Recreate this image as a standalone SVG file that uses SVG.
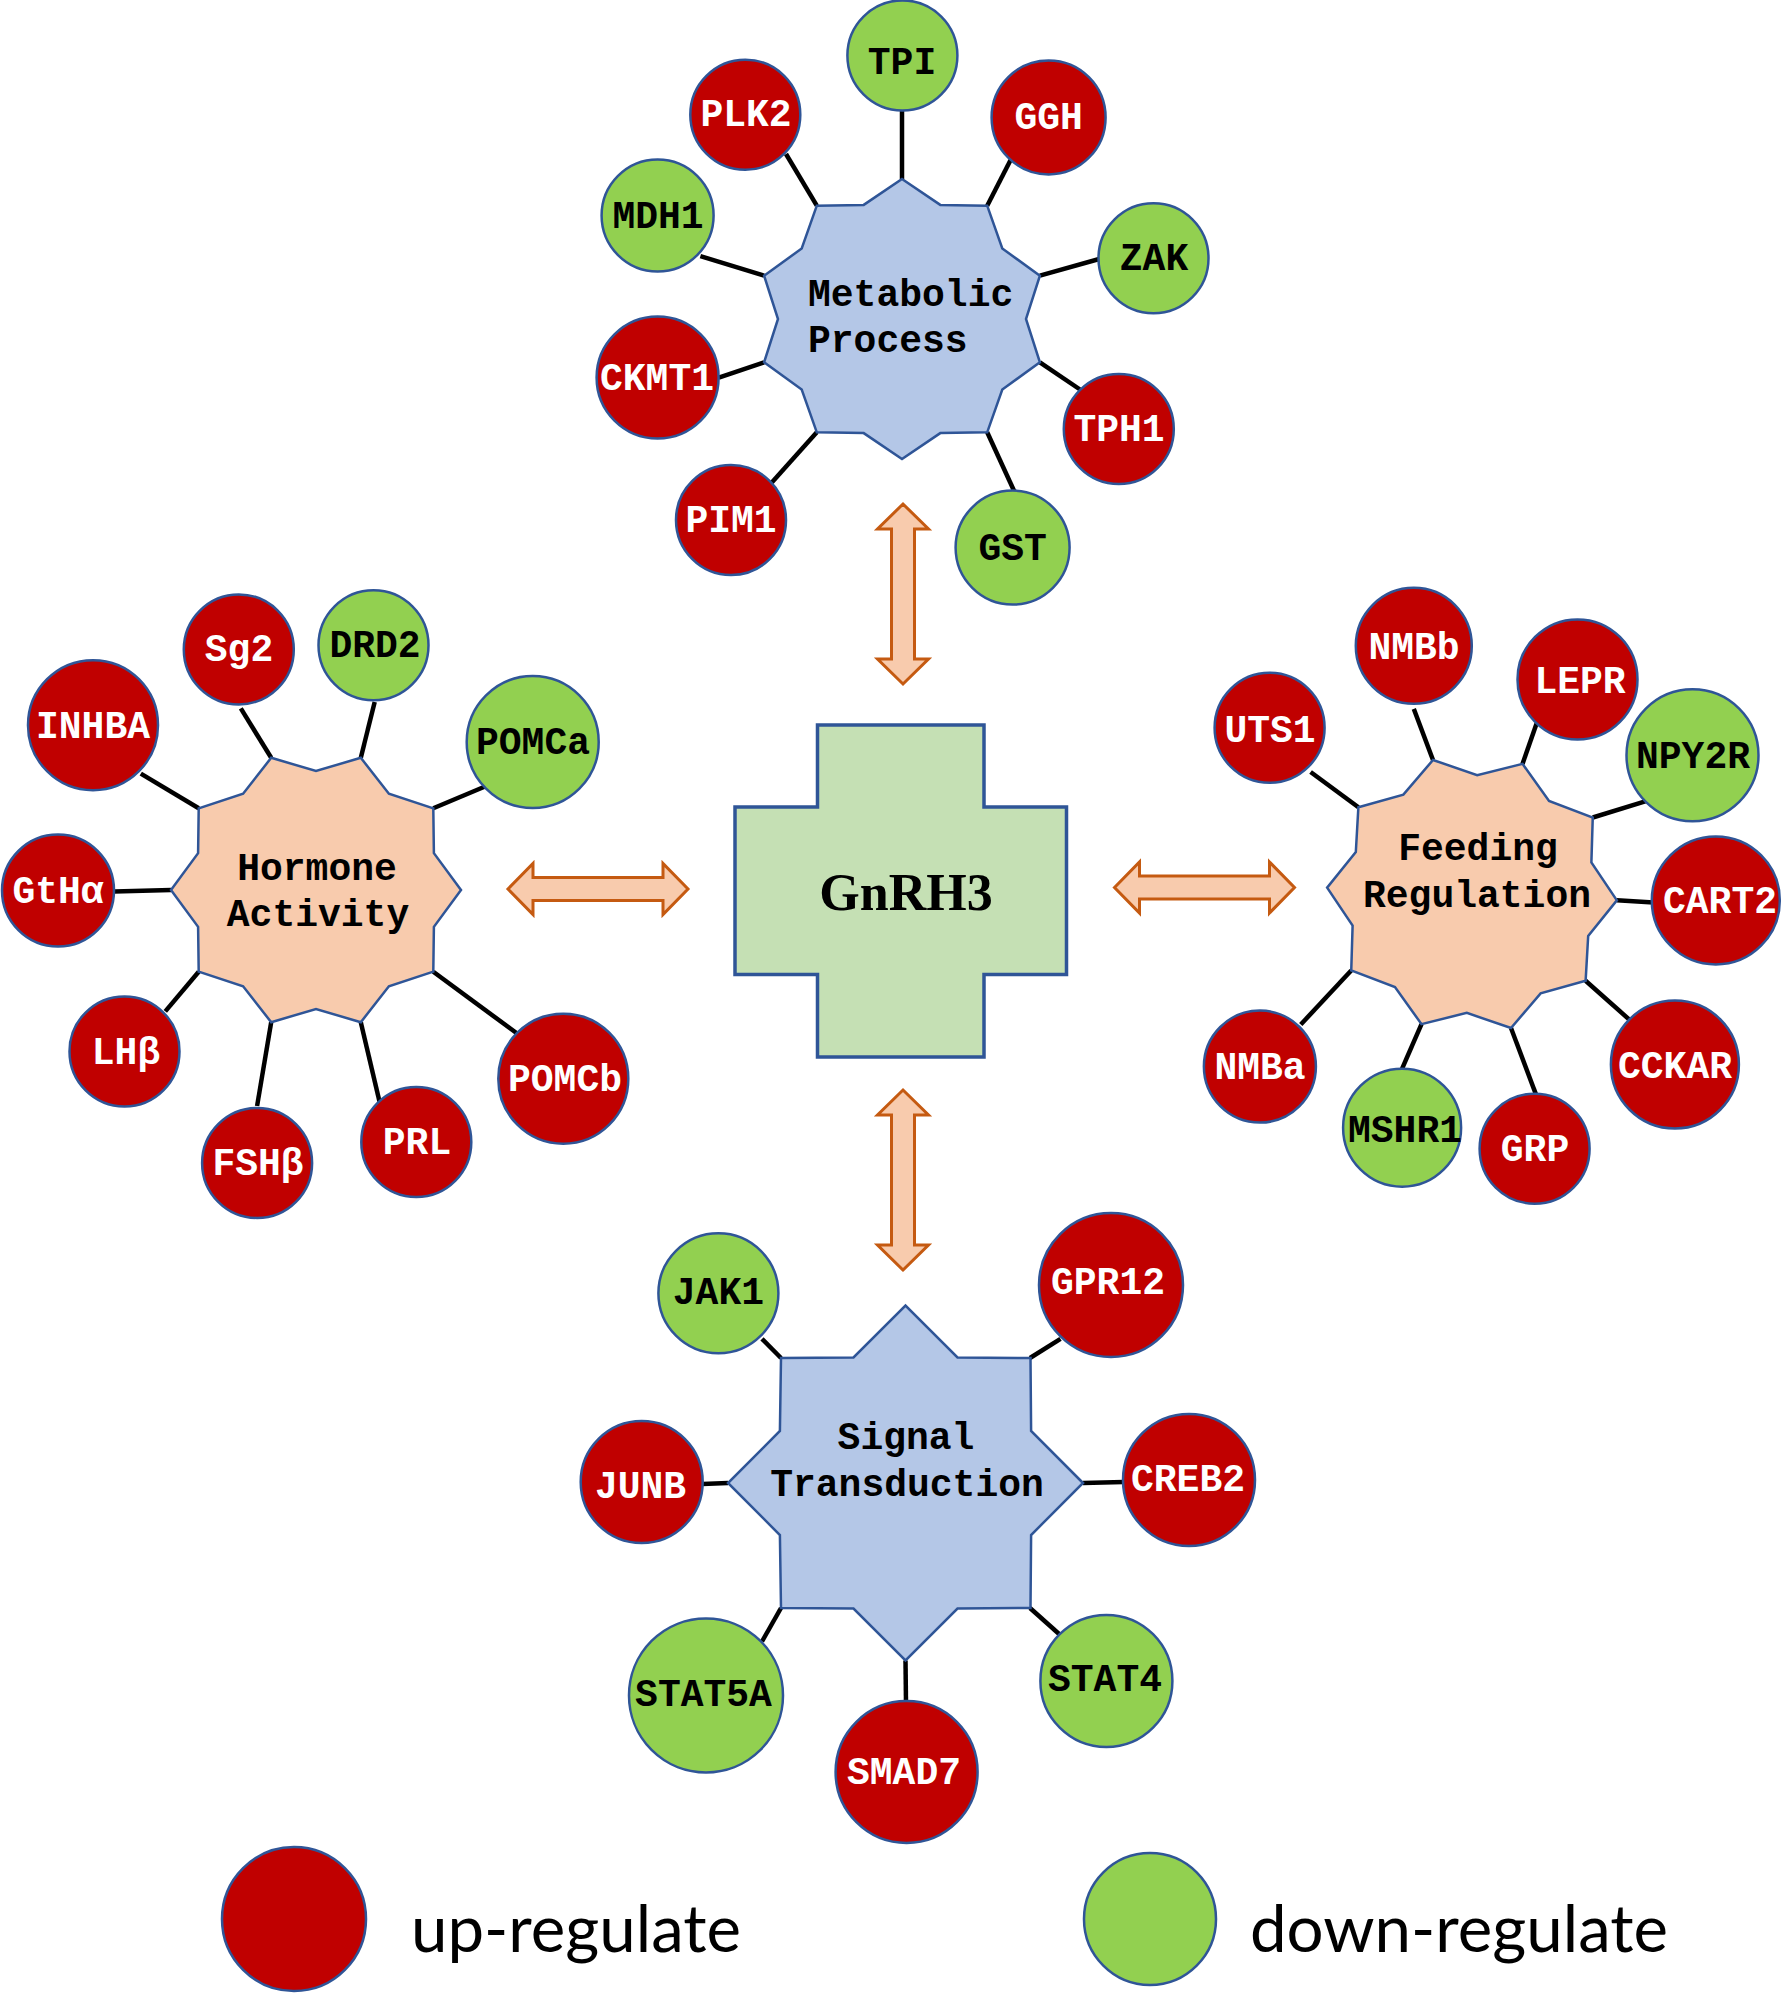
<svg xmlns="http://www.w3.org/2000/svg" xmlns:xlink="http://www.w3.org/1999/xlink" width="1791" height="1994" viewBox="0 0 1791 1994">
<style>
.up{fill:#C00000;stroke:#2F5597;stroke-width:2.5}
.dn{fill:#92D050;stroke:#2F5597;stroke-width:2.5}
.lbl{font-family:"Liberation Mono","Courier New",monospace;font-weight:bold;font-size:38px;text-anchor:middle}
.w{fill:#FFFFFF}
.k{fill:#000000}
.hub{font-family:"Liberation Mono","Courier New",monospace;font-weight:bold;font-size:38px;fill:#000}
.blue{fill:#B4C7E7;stroke:#2F5597;stroke-width:2.5;stroke-linejoin:miter}
.peach{fill:#F8CBAD;stroke:#2F5597;stroke-width:2.5;stroke-linejoin:miter}
.arrow{fill:#F8CBAD;stroke:#C55A11;stroke-width:3}
.conn line{stroke:#000;stroke-width:4.5}
.leg{font-family:Lato,"Open Sans",sans-serif;font-size:66px;fill:#000}
</style>
<defs>
<path id="darrow" d="M-90,0 L-65,-25.5 L-65,-11.5 L65,-11.5 L65,-25.5 L90,0 L65,25.5 L65,11.5 L-65,11.5 L-65,25.5 Z"/>
<path id="star10h" d="M145,0 L117.9,-36.8 L117.3,-81.7 L72.9,-96.3 L44.8,-132.2 L0,-119 L-44.8,-132.2 L-72.9,-96.3 L-117.3,-81.7 L-117.9,-36.8 L-145,0 L-117.9,36.8 L-117.3,81.7 L-72.9,96.3 L-44.8,132.2 L0,119 L44.8,132.2 L72.9,96.3 L117.3,81.7 L117.9,36.8 Z"/>
</defs>
<rect width="1791" height="1994" fill="#FFFFFF"/>

<g id="connectors" class="conn">
<line x1="902" y1="110" x2="902" y2="179"/>
<line x1="786" y1="154" x2="816.8" y2="205.7"/>
<line x1="1010.6" y1="160" x2="987.2" y2="205.7"/>
<line x1="700.4" y1="256.2" x2="764.1" y2="275.7"/>
<line x1="1099.2" y1="259" x2="1039.9" y2="275.7"/>
<line x1="718.8" y1="377.6" x2="764.1" y2="362.3"/>
<line x1="1080" y1="389.5" x2="1039.9" y2="362.3"/>
<line x1="771.8" y1="482.4" x2="816.8" y2="432.3"/>
<line x1="1014.7" y1="492.3" x2="987.2" y2="432.3"/>

<line x1="140.8" y1="773.6" x2="198.7" y2="808.3"/>
<line x1="240.8" y1="708.4" x2="271.2" y2="757.8"/>
<line x1="374.7" y1="702" x2="360.8" y2="757.8"/>
<line x1="485.7" y1="786.2" x2="433.3" y2="808.3"/>
<line x1="114.3" y1="891.4" x2="171" y2="890"/>
<line x1="165.3" y1="1011.4" x2="198.7" y2="971.7"/>
<line x1="257.1" y1="1106" x2="271.2" y2="1022.2"/>
<line x1="379.6" y1="1101.9" x2="360.8" y2="1022.2"/>
<line x1="518.4" y1="1034.5" x2="433.3" y2="971.7"/>

<line x1="1310.6" y1="772" x2="1358.4" y2="807.3"/>
<line x1="1413.8" y1="708.9" x2="1433" y2="760"/>
<line x1="1536.6" y1="723.6" x2="1522.5" y2="763.9"/>
<line x1="1647.6" y1="800.6" x2="1592.8" y2="817.5"/>
<line x1="1653.5" y1="902.5" x2="1616.9" y2="900.3"/>
<line x1="1630.1" y1="1020.3" x2="1585.6" y2="980.7"/>
<line x1="1536.6" y1="1096.1" x2="1511" y2="1028"/>
<line x1="1402.1" y1="1068.7" x2="1421.5" y2="1024.1"/>
<line x1="1300.8" y1="1024.5" x2="1351.2" y2="970.5"/>

<line x1="762" y1="1338.9" x2="781" y2="1358"/>
<line x1="1060.5" y1="1338.9" x2="1030" y2="1358"/>
<line x1="702.3" y1="1484" x2="728" y2="1483"/>
<line x1="1123.8" y1="1481.9" x2="1083" y2="1483"/>
<line x1="762" y1="1641.5" x2="781" y2="1608"/>
<line x1="1060.5" y1="1635.3" x2="1030" y2="1608"/>
<line x1="906" y1="1703.7" x2="905.5" y2="1660.5"/>

<use xlink:href="#darrow" href="#darrow" class="arrow" transform="translate(903,594) rotate(90)"/>
<use xlink:href="#darrow" href="#darrow" class="arrow" transform="translate(903,1180) rotate(90)"/>
<use xlink:href="#darrow" href="#darrow" class="arrow" transform="translate(598,889)"/>
<use xlink:href="#darrow" href="#darrow" class="arrow" transform="translate(1204.5,887.5)"/>
</g>

<g id="GnRH3">
<path d="M817.5,725 H984 V807 H1066.5 V974.5 H984 V1057 H817.5 V974.5 H735 V807 H817.5 Z" fill="#C5E0B4" stroke="#2F5597" stroke-width="3.5"/>
<text x="906" y="910" font-family="'Liberation Serif','Times New Roman',serif" font-weight="bold" font-size="52" text-anchor="middle" fill="#000">GnRH3</text>
</g>

<g id="metabolic-process">
<path class="blue" transform="translate(902,319)" d="M0,-140 L38.3,-114.1 L85.2,-113.3 L100.3,-70.5 L137.9,-43.3 L124,0 L137.9,43.3 L100.3,70.5 L85.2,113.3 L38.3,114.1 L0,140 L-38.3,114.1 L-85.2,113.3 L-100.3,70.5 L-137.9,43.3 L-124,0 L-137.9,-43.3 L-100.3,-70.5 L-85.2,-113.3 L-38.3,-114.1 Z"/>
<text class="hub" x="808" y="306">Metabolic</text>
<text class="hub" x="808" y="352">Process</text>
</g>

<g id="hormone-activity">
<use xlink:href="#star10h" href="#star10h" class="peach" transform="translate(316,890)"/>
<text class="hub" x="317" y="880" text-anchor="middle">Hormone</text>
<text class="hub" x="318" y="926" text-anchor="middle">Activity</text>
</g>

<g id="feeding-regulation">
<use xlink:href="#star10h" href="#star10h" class="peach" transform="translate(1472,894) rotate(2.5)"/>
<text class="hub" x="1478" y="860" text-anchor="middle">Feeding</text>
<text class="hub" x="1477" y="907" text-anchor="middle">Regulation</text>
</g>

<g id="signal-transduction">
<path class="blue" transform="translate(905.5,1483)" d="M177.5,0 L125.6,-52 L125,-125 L52,-125.6 L0,-177.5 L-52,-125.6 L-124.5,-125 L-125.6,-52 L-177.5,0 L-125.6,52 L-124.5,125 L-52,125.6 L0,177.5 L52,125.6 L125,125 L125.6,52 Z"/>
<text class="hub" x="906" y="1449" text-anchor="middle">Signal</text>
<text class="hub" x="907" y="1496" text-anchor="middle">Transduction</text>
</g>

<g id="TPI"><circle class="dn" cx="902.4" cy="55.4" r="55"/><text class="lbl k" x="902" y="74">TPI</text></g>
<g id="PLK2"><circle class="up" cx="745.3" cy="114.7" r="55"/><text class="lbl w" x="746" y="126">PLK2</text></g>
<g id="GGH"><circle class="up" cx="1048.6" cy="117.4" r="57"/><text class="lbl w" x="1048.6" y="129">GGH</text></g>
<g id="MDH1"><circle class="dn" cx="657.6" cy="215.5" r="56"/><text class="lbl k" x="658" y="228">MDH1</text></g>
<g id="ZAK"><circle class="dn" cx="1153.5" cy="258.2" r="55"/><text class="lbl k" x="1154" y="270">ZAK</text></g>
<g id="CKMT1"><circle class="up" cx="657.6" cy="377.6" r="61"/><text class="lbl w" x="657" y="390">CKMT1</text></g>
<g id="TPH1"><circle class="up" cx="1118.8" cy="429" r="55"/><text class="lbl w" x="1119" y="441">TPH1</text></g>
<g id="PIM1"><circle class="up" cx="731" cy="520" r="55"/><text class="lbl w" x="731" y="532">PIM1</text></g>
<g id="GST"><circle class="dn" cx="1012.6" cy="547.6" r="57"/><text class="lbl k" x="1012.6" y="560">GST</text></g>

<g id="Sg2"><circle class="up" cx="238.8" cy="649.4" r="55"/><text class="lbl w" x="239" y="661">Sg2</text></g>
<g id="DRD2"><circle class="dn" cx="373.5" cy="645.2" r="55"/><text class="lbl k" x="375" y="657">DRD2</text></g>
<g id="INHBA"><circle class="up" cx="93" cy="725.2" r="65"/><text class="lbl w" x="93" y="738">INHBA</text></g>
<g id="POMCa"><circle class="dn" cx="532.7" cy="742" r="66"/><text class="lbl k" x="533" y="754">POMCa</text></g>
<g id="GtHa"><circle class="up" cx="58" cy="890.6" r="56"/><text class="lbl w" x="58" y="903">GtHα</text></g>
<g id="LHb"><circle class="up" cx="124.5" cy="1051.4" r="55"/><text class="lbl w" x="126" y="1064">LHβ</text></g>
<g id="POMCb"><circle class="up" cx="563.3" cy="1078.7" r="65"/><text class="lbl w" x="565" y="1091">POMCb</text></g>
<g id="FSHb"><circle class="up" cx="257.1" cy="1162.9" r="55"/><text class="lbl w" x="258" y="1175">FSHβ</text></g>
<g id="PRL"><circle class="up" cx="416.3" cy="1141.9" r="55"/><text class="lbl w" x="417" y="1154">PRL</text></g>

<g id="NMBb"><circle class="up" cx="1413.8" cy="645.8" r="58"/><text class="lbl w" x="1414" y="659">NMBb</text></g>
<g id="UTS1"><circle class="up" cx="1269.6" cy="727.8" r="55"/><text class="lbl w" x="1270" y="742">UTS1</text></g>
<g id="LEPR"><circle class="up" cx="1577.5" cy="679.4" r="60"/><text class="lbl w" x="1580" y="693">LEPR</text></g>
<g id="NPY2R"><circle class="dn" cx="1692.5" cy="755.2" r="66"/><text class="lbl k" x="1693" y="768">NPY2R</text></g>
<g id="CART2"><circle class="up" cx="1715.8" cy="900.4" r="64"/><text class="lbl w" x="1720" y="913">CART2</text></g>
<g id="NMBa"><circle class="up" cx="1259.9" cy="1066.6" r="56"/><text class="lbl w" x="1260" y="1079">NMBa</text></g>
<g id="CCKAR"><circle class="up" cx="1674.9" cy="1064.5" r="64"/><text class="lbl w" x="1675" y="1078">CCKAR</text></g>
<g id="MSHR1"><circle class="dn" cx="1402.1" cy="1127.7" r="59"/><text class="lbl k" x="1405" y="1142">MSHR1</text></g>
<g id="GRP"><circle class="up" cx="1534.6" cy="1148.7" r="55"/><text class="lbl w" x="1535" y="1161">GRP</text></g>

<g id="JAK1"><circle class="dn" cx="718.4" cy="1293.3" r="60"/><text class="lbl k" x="718.4" y="1304">JAK1</text></g>
<g id="GPR12"><circle class="up" cx="1111" cy="1285" r="72"/><text class="lbl w" x="1108" y="1294">GPR12</text></g>
<g id="JUNB"><circle class="up" cx="641.7" cy="1481.9" r="61"/><text class="lbl w" x="640.5" y="1498">JUNB</text></g>
<g id="CREB2"><circle class="up" cx="1189" cy="1479.9" r="66"/><text class="lbl w" x="1188" y="1491">CREB2</text></g>
<g id="STAT5A"><circle class="dn" cx="706" cy="1695.4" r="77"/><text class="lbl k" x="703.5" y="1706">STAT5A</text></g>
<g id="STAT4"><circle class="dn" cx="1106.4" cy="1680.9" r="66"/><text class="lbl k" x="1105" y="1691">STAT4</text></g>
<g id="SMAD7"><circle class="up" cx="906.6" cy="1772" r="71"/><text class="lbl w" x="904" y="1784">SMAD7</text></g>

<g id="legend">
<circle class="up" cx="294" cy="1919" r="72"/>
<text class="leg" x="411" y="1952" textLength="330" lengthAdjust="spacingAndGlyphs">up-regulate</text>
<circle class="dn" cx="1150" cy="1919" r="66"/>
<text class="leg" x="1250" y="1952" textLength="418" lengthAdjust="spacingAndGlyphs">down-regulate</text>
</g>
</svg>
